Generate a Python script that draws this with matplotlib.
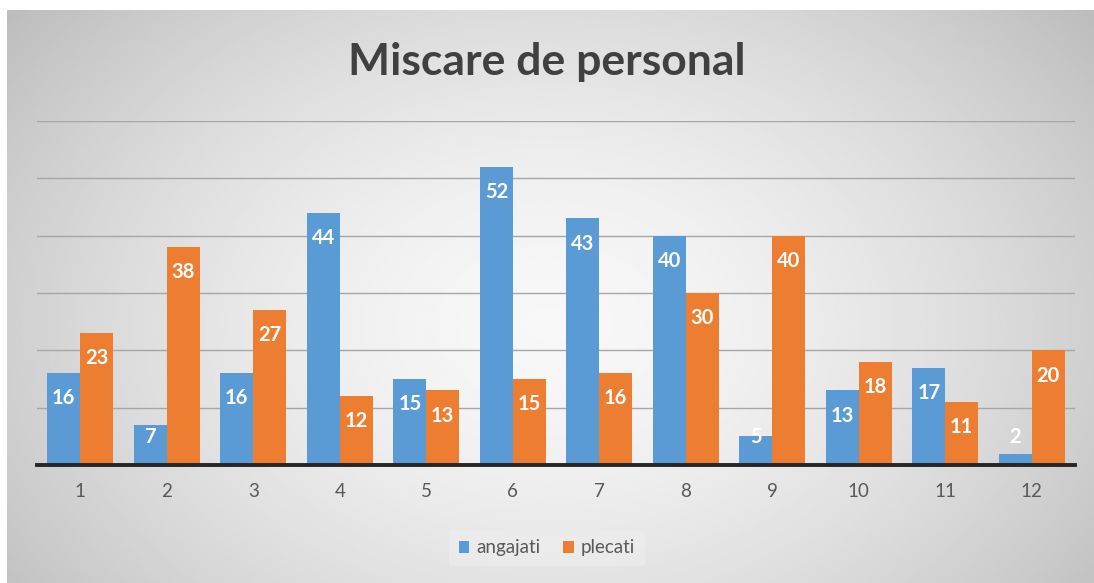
import numpy as np
import matplotlib.pyplot as plt

luni = ['1', '2', '3', '4', '5', '6', '7', '8', '9', '10', '11', '12']
angajati = [16, 7, 16, 44, 15, 52, 43, 40, 5, 13, 17, 2]
plecati = [23, 38, 27, 12, 13, 15, 16, 30, 40, 18, 11, 20]

albastru = '#5b9bd5'
portocaliu = '#ed7d31'

plt.rcParams['font.family'] = ['Lato', 'DejaVu Sans']

fig = plt.figure(figsize=(10.94, 5.83), dpi=100)
fig.patch.set_facecolor('white')

# fundal cu gradient radial (ca in Excel)
bg = fig.add_axes([7/1094, 0, 1 - 7/1094, 1 - 10/583])
yy, xx = np.mgrid[0:1:300j, 0:1:600j]
r = np.sqrt(((xx - 0.5) / 0.62) ** 2 + ((yy - 0.55) / 0.85) ** 2)
val = np.clip(0.97 - 0.22 * r ** 1.6, 0.74, 1)
bg.imshow(val, cmap='gray', vmin=0, vmax=1, aspect='auto', extent=[0, 1, 0, 1])
bg.set_axis_off()

ax = fig.add_axes([37/1094, 1 - 465/583, (1075 - 37)/1094, (465 - 121)/583])
ax.patch.set_alpha(0)

x = np.arange(len(luni))
w = 0.38
b1 = ax.bar(x - w/2, angajati, w, color=albastru, label='angajati', zorder=3)
b2 = ax.bar(x + w/2, plecati, w, color=portocaliu, label='plecati', zorder=3)

# etichete in interiorul barei, sub capat (pt bare mici raman la o inaltime minima)
for bars, vals in [(b1, angajati), (b2, plecati)]:
    for rect, v in zip(bars, vals):
        ax.text(rect.get_x() + rect.get_width()/2, max(v - 4.4, 4.8), str(v),
                ha='center', va='center', color='white', fontsize=14.5,
                fontweight='bold', zorder=4)

ax.set_xlim(-0.5, len(luni) - 0.5)
ax.set_ylim(0, 60)
ax.set_yticks(np.arange(10, 61, 10))
ax.yaxis.grid(True, color='#a6a6a6', linewidth=1, zorder=0)
ax.tick_params(axis='y', left=False, labelleft=False)
ax.set_xticks(x)
ax.set_xticklabels(luni, fontsize=13.5, color='#595959')
ax.tick_params(axis='x', length=0, pad=13)
for s in ['top', 'right', 'left']:
    ax.spines[s].set_visible(False)
ax.spines['bottom'].set_color('#262626')
ax.spines['bottom'].set_linewidth(2.8)
ax.spines['bottom'].set_zorder(5)

fig.text(0.5, 1 - 62/583, 'Miscare de personal', ha='center', va='center',
         fontsize=32, fontweight='bold', color='#404040')

leg = fig.legend(loc='center', bbox_to_anchor=(0.5, 1 - 548/583), ncol=2,
                 fontsize=13.5, frameon=True, handlelength=0.55, handleheight=0.55,
                 handletextpad=0.4, columnspacing=1.2, borderpad=0.5)
leg.get_frame().set_facecolor('#eeeeee')
leg.get_frame().set_edgecolor('none')
leg.get_frame().set_alpha(0.6)
for t in leg.get_texts():
    t.set_color('#595959')

fig.savefig('out.png', dpi=100, facecolor=fig.get_facecolor())
